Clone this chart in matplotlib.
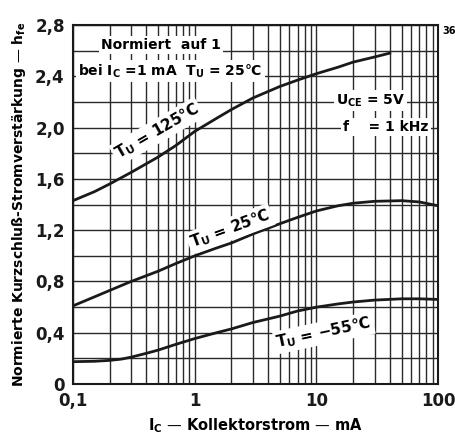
import numpy as np
import matplotlib
matplotlib.use('Agg')
import matplotlib.pyplot as plt
from matplotlib.ticker import FixedLocator, NullFormatter, LogLocator

plt.rcParams['font.family'] = ['DejaVu Sans']
plt.rcParams['font.weight'] = 'bold'
plt.rcParams['axes.labelweight'] = 'bold'
plt.rcParams['mathtext.default'] = 'bf'

# collector current in mA
ic_125 = [0.1, 0.15, 0.2, 0.3, 0.5, 0.7, 1, 1.5, 2, 3, 5, 7, 10, 15, 20, 30, 40]
hfe_125 = [1.43, 1.50, 1.56, 1.65, 1.77, 1.86, 1.97, 2.07, 2.14, 2.23, 2.32, 2.37, 2.42, 2.47, 2.51, 2.55, 2.58]

ic_25 = [0.1, 0.15, 0.2, 0.3, 0.5, 0.7, 1, 1.5, 2, 3, 5, 7, 10, 15, 20, 30, 50, 70, 100]
hfe_25 = [0.61, 0.68, 0.73, 0.80, 0.88, 0.94, 1.0, 1.06, 1.10, 1.17, 1.25, 1.30, 1.35, 1.39, 1.41, 1.425, 1.43, 1.42, 1.39]

ic_m55 = [0.1, 0.15, 0.2, 0.25, 0.3, 0.4, 0.5, 0.7, 1, 1.5, 2, 3, 5, 7, 10, 15, 20, 30, 50, 70, 100]
hfe_m55 = [0.175, 0.178, 0.185, 0.195, 0.21, 0.24, 0.265, 0.31, 0.355, 0.40, 0.43, 0.48, 0.53, 0.57, 0.60, 0.625, 0.64, 0.655, 0.665, 0.665, 0.66]

x_ticks = [0.1, 1, 10, 100]
x_tick_labels = ['0,1', '1', '10', '100']
y_ticks = [0, 0.4, 0.8, 1.2, 1.6, 2.0, 2.4, 2.8]
y_tick_labels = ['0', '0,4', '0,8', '1,2', '1,6', '2,0', '2,4', '2,8']

fig = plt.figure(figsize=(4.56, 4.37), dpi=100)
ax = fig.add_axes([0.160, 0.121, 0.801, 0.822])

ink = '#1a1a1a'
for x, y in [(ic_125, hfe_125), (ic_25, hfe_25), (ic_m55, hfe_m55)]:
    ax.plot(x, y, color=ink, lw=2.0, zorder=3, solid_joinstyle='round')

ax.set_xscale('log')
ax.set_xlim(0.1, 100)
ax.set_ylim(0, 2.8)
ax.set_xticks(x_ticks)
ax.set_xticklabels(x_tick_labels, fontsize=12)
ax.xaxis.set_minor_locator(LogLocator(base=10, subs=np.arange(2, 10)))
ax.xaxis.set_minor_formatter(NullFormatter())
ax.set_yticks(y_ticks)
ax.set_yticklabels(y_tick_labels, fontsize=12)
ax.yaxis.set_minor_locator(FixedLocator(np.arange(0.2, 2.8, 0.4)))
ax.tick_params(which='both', length=0, pad=6, colors=ink)

ax.grid(which='both', color='#2a2a2a', lw=1.0, zorder=1)
for s in ax.spines.values():
    s.set_color(ink)
    s.set_linewidth(1.5)

ax.set_xlabel('$I_C$ — Kollektorstrom — mA', fontsize=10.5, labelpad=4)
ax.set_ylabel('Normierte Kurzschluß-Stromverstärkung — $h_{fe}$', fontsize=10, labelpad=5)

box = dict(facecolor='white', edgecolor='none', pad=1.5)
ax.text(0.24, 0.944, 'Normiert  auf 1', transform=ax.transAxes, fontsize=10,
        ha='center', va='center', bbox=box, zorder=4)
ax.text(0.014, 0.872, 'bei $I_C$ =1 mA  $T_U$ = 25°C', transform=ax.transAxes, fontsize=10,
        ha='left', va='center', bbox=box, zorder=4)
ax.text(0.72, 0.79, '$U_{CE}$ = 5V', transform=ax.transAxes, fontsize=10,
        ha='left', va='center', bbox=box, zorder=4)
ax.text(0.74, 0.715, 'f    = 1 kHz', transform=ax.transAxes, fontsize=10,
        ha='left', va='center', bbox=box, zorder=4)

ax.text(0.49, 1.97, '$T_U$ = 125°C', fontsize=11, rotation=30,
        ha='center', va='center', bbox=box, zorder=4)
ax.text(1.95, 1.21, '$T_U$ = 25°C', fontsize=11, rotation=20,
        ha='center', va='center', bbox=box, zorder=4)
ax.text(11.5, 0.40, '$T_U$ = −55°C', fontsize=11, rotation=12,
        ha='center', va='center', bbox=box, zorder=4)

fig.text(0.985, 0.93, '36', fontsize=7, ha='center', va='center')

fig.savefig('out.png', dpi=100)
